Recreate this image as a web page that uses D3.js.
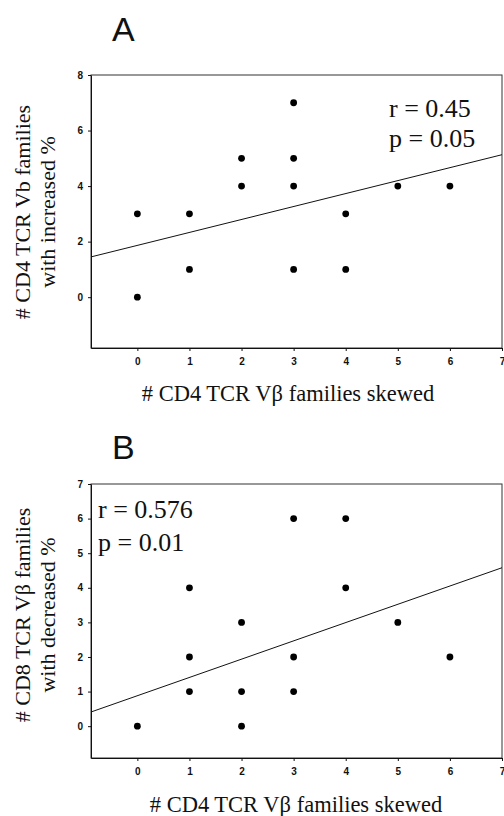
<!DOCTYPE html>
<html>
<head>
<meta charset="utf-8">
<script src="https://cdn.jsdelivr.net/npm/d3@7"></script>
<style>
  html, body { margin: 0; padding: 0; background: #fff; }
  svg { display: block; }
  .tick text { font-family: "Liberation Sans", Arial, sans-serif; font-size: 10px; font-weight: bold; fill: #111; }
  .tick line { stroke: #111; }
  .panel-title { font-family: "Liberation Sans", Arial, sans-serif; font-size: 34px; fill: #111; }
  .axis-label, .stat { font-family: "Liberation Serif", "Times New Roman", serif; fill: #111; }
</style>
</head>
<body>
<div id="chart"></div>
<script>
// Shared x axis: number of CD4 TCR Vβ families skewed
const xTicks = [0, 1, 2, 3, 4, 5, 6, 7];

// Panel A: CD4 families with increased %
const panelAX = [0, 0, 1, 1, 2, 2, 3, 3, 3, 3, 4, 4, 5, 6];
const panelAY = [3, 0, 3, 1, 5, 4, 7, 5, 4, 1, 3, 1, 4, 4];
const panelAYTicks = [0, 2, 4, 6, 8];
const panelAFit = [1.45, 5.13];   // fitted line, y at left and right plot edges
const panelAStats = ['r = 0.45', 'p = 0.05'];

// Panel B: CD8 families with decreased %
const panelBX = [0, 1, 1, 1, 2, 2, 2, 3, 3, 3, 4, 4, 5, 6];
const panelBY = [0, 4, 2, 1, 3, 1, 0, 6, 2, 1, 6, 4, 3, 2];
const panelBYTicks = [0, 1, 2, 3, 4, 5, 6, 7];
const panelBFit = [0.41, 4.58];
const panelBStats = ['r = 0.576', 'p = 0.01'];

const xLabel = '# CD4 TCR Vβ families skewed';

const width = 504, height = 816;

const svg = d3.select('#chart')
  .append('svg')
  .attr('width', width)
  .attr('height', height);

/**
 * Draw one scatter panel with box frame, ticks, dots and fit line
 */
function drawPanel(opts) {
  const x = d3.scaleLinear().domain([-0.89, 7]).range([opts.left, opts.right]);
  const y = d3.scaleLinear().domain(opts.yDomain).range([opts.bottom, opts.top]);

  const g = svg.append('g');

  // panel letter
  g.append('text')
    .attr('class', 'panel-title')
    .attr('x', opts.titleX)
    .attr('y', opts.titleY)
    .text(opts.title);

  // frame
  g.append('rect')
    .attr('x', opts.left)
    .attr('y', opts.top)
    .attr('width', opts.right - opts.left)
    .attr('height', opts.bottom - opts.top)
    .attr('fill', 'none')
    .attr('stroke', '#333')
    .attr('stroke-width', 1);

  // axes
  const xAxis = g.append('g')
    .attr('transform', `translate(0,${opts.bottom})`)
    .call(d3.axisBottom(x).tickValues(xTicks).tickSize(3).tickSizeOuter(0).tickPadding(7));
  xAxis.select('.domain').attr('stroke', '#111');

  const yAxis = g.append('g')
    .attr('transform', `translate(${opts.left},0)`)
    .call(d3.axisLeft(y).tickValues(opts.yTicks).tickSize(3).tickSizeOuter(0).tickPadding(5));
  yAxis.select('.domain').attr('stroke', '#111');

  // fitted line
  const fit = x.domain().map((d, i) => [d, opts.fit[i]]);
  g.append('path')
    .datum(fit)
    .attr('fill', 'none')
    .attr('stroke', '#111')
    .attr('stroke-width', 1)
    .attr('d', d3.line().x(d => x(d[0])).y(d => y(d[1])));

  // points
  g.selectAll('.dot')
    .data(opts.xs.map((d, i) => ({ x: d, y: opts.ys[i] })))
    .enter()
    .append('circle')
    .attr('class', 'dot')
    .attr('cx', d => x(d.x))
    .attr('cy', d => y(d.y))
    .attr('r', 3.4)
    .attr('fill', '#000');

  // stats
  g.append('text')
    .attr('class', 'stat')
    .attr('x', opts.statX)
    .attr('y', opts.statY)
    .attr('font-size', opts.statSize)
    .selectAll('tspan')
    .data(opts.stats)
    .enter()
    .append('tspan')
    .attr('x', opts.statX)
    .attr('dy', (d, i) => i === 0 ? 0 : opts.statGap)
    .text(d => d);

  // x label
  g.append('text')
    .attr('class', 'axis-label')
    .attr('x', opts.xLabelX)
    .attr('y', opts.xLabelY)
    .attr('text-anchor', 'middle')
    .attr('font-size', 22.5)
    .text(xLabel);

  // y label (two lines, rotated)
  const yl = g.append('text')
    .attr('class', 'axis-label')
    .attr('transform', `translate(${opts.yLabelX},${opts.yLabelY}) rotate(-90)`)
    .attr('text-anchor', 'middle')
    .attr('font-size', 22);
  yl.selectAll('tspan')
    .data(opts.yLabel)
    .enter()
    .append('tspan')
    .attr('x', 0)
    .attr('dy', (d, i) => i === 0 ? 0 : 25)
    .text(d => d);
}

drawPanel({
  title: 'A', titleX: 112, titleY: 41,
  left: 91, right: 502, top: 75, bottom: 348,
  yDomain: [-1.83, 8], yTicks: panelAYTicks,
  xs: panelAX, ys: panelAY, fit: panelAFit,
  stats: panelAStats, statX: 389, statY: 117, statSize: 26, statGap: 30,
  xLabelX: 288, xLabelY: 401,
  yLabel: ['# CD4 TCR Vb families', 'with increased %'], yLabelX: 30, yLabelY: 212
});

drawPanel({
  title: 'B', titleX: 112, titleY: 459,
  left: 91, right: 502, top: 484, bottom: 758,
  yDomain: [-0.92, 7], yTicks: panelBYTicks,
  xs: panelBX, ys: panelBY, fit: panelBFit,
  stats: panelBStats, statX: 98, statY: 518, statSize: 26, statGap: 33,
  xLabelX: 296, xLabelY: 812,
  yLabel: ['# CD8 TCR Vβ families', 'with decreased %'], yLabelX: 30, yLabelY: 615
});
</script>
</body>
</html>
